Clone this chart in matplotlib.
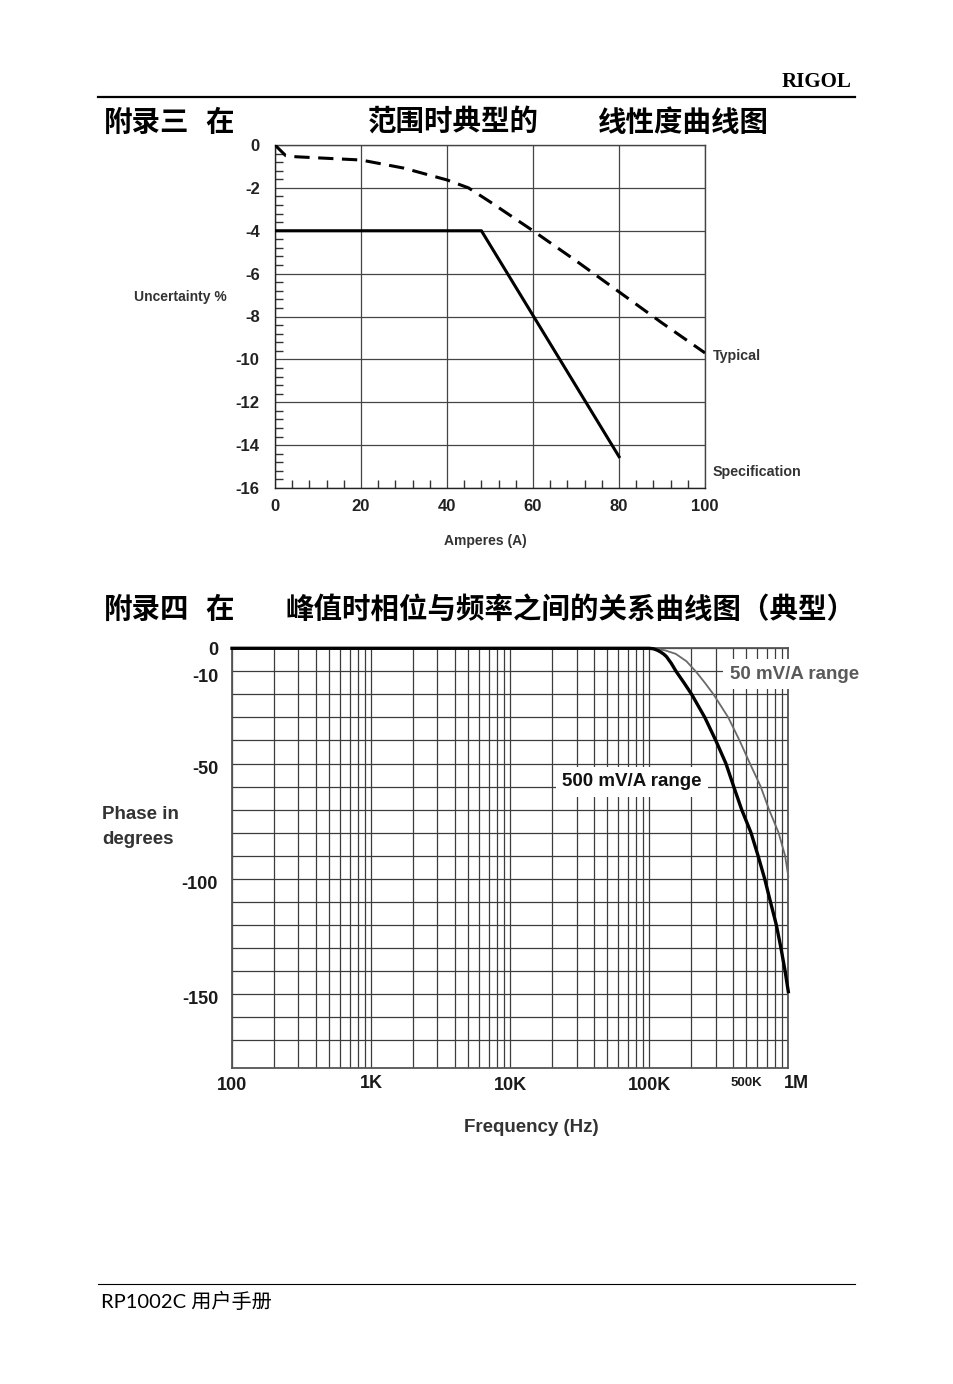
import numpy as np
import matplotlib
matplotlib.use('Agg')
import matplotlib.pyplot as plt
from matplotlib.lines import Line2D
from matplotlib.transforms import ScaledTranslation
from matplotlib.ticker import FixedLocator, LogLocator, NullFormatter

# ---------------- data ----------------
# Chart 1: uncertainty vs amperes
amps_typical = [0, 2.5, 5, 10, 20, 30, 40, 45, 50, 60, 70, 80, 90, 100]
unc_typical = [0, -0.5, -0.55, -0.6, -0.7, -1.08, -1.63, -2.0, -2.65, -4.0, -5.4, -6.85, -8.3, -9.7]
amps_spec = [0, 48, 80.2]
unc_spec = [-4, -4, -14.6]
x1_ticks = [0, 20, 40, 60, 80, 100]
y1_ticks = [0, -2, -4, -6, -8, -10, -12, -14, -16]

# Chart 2: phase vs frequency
freq_500 = [100, 1.0e5, 1.07e5, 1.14e5, 1.2e5, 1.27e5, 1.33e5, 1.44e5, 1.56e5, 1.78e5,
            2.02e5, 2.51e5, 3.01e5, 3.56e5, 4.05e5, 4.62e5, 5.39e5, 6.06e5, 6.76e5,
            7.44e5, 8.2e5, 8.85e5, 9.48e5, 1e6]
phase_500 = [0, 0, -0.2, -0.8, -1.5, -2.5, -3.6, -6.5, -10, -15,
             -20, -30, -40, -50, -60, -70, -80, -90, -100,
             -110, -120, -130, -140, -149]
freq_50 = [100, 1.05e5, 1.15e5, 1.3e5, 1.55e5, 1.85e5, 2.16e5, 2.5e5, 2.9e5, 3.7e5,
           4.46e5, 5.3e5, 6.33e5, 7.27e5, 8.51e5, 9.48e5, 1e6]
phase_50 = [0, 0, -0.3, -0.9, -2.4, -5.6, -10, -14.8, -20, -30,
            -40, -50, -60, -70, -80, -90, -99]
x2_ticks = [100, 1e3, 1e4, 1e5, 5e5, 1e6]
x2_labels = ['100', '1K', '10K', '100K', '500K', '1M']
y2_ticks = [0, -10, -50, -100, -150]
y2_labels = ['0', '-10', '-50', '-100', '-150']

# ---------------- figure ----------------
W, H, DPI = 954, 1384, 100
fig = plt.figure(figsize=(W / DPI, H / DPI), dpi=DPI)
fig.patch.set_facecolor('white')

def fx(px):
    return px / W

def fy(py):
    return 1 - py / H

CJK = ['Noto Sans CJK SC', 'DejaVu Sans']
SANS = ['Liberation Sans', 'DejaVu Sans']

# header / footer
fig.text(fx(852), fy(82), 'RIGOL', ha='right', va='center', fontsize=15,
         fontweight='bold', family=['Liberation Serif', 'DejaVu Serif'])
fig.add_artist(Line2D([fx(98), fx(855)], [fy(97), fy(97)], color='black', lw=1.6))
fig.add_artist(Line2D([fx(98), fx(855)], [fy(1284), fy(1284)], color='black', lw=0.8))
fig.text(fx(101), fy(1301), 'RP1002C 用户手册', ha='left', va='center', fontsize=14.5,
         family=['Lato', 'Noto Sans CJK SC', 'DejaVu Sans'])

# titles
for txt, px in [('附录三', 104), ('在', 205), ('范围时典型的', 368), ('线性度曲线图', 598)]:
    fig.text(fx(px), fy(123), txt, ha='left', va='center', fontsize=20.5,
             fontweight='bold', family=CJK)
for txt, px in [('附录四', 104), ('在', 205), ('峰值时相位与频率之间的关系曲线图（典型）', 285)]:
    fig.text(fx(px), fy(610), txt, ha='left', va='center', fontsize=20.5,
             fontweight='bold', family=CJK)

# ---------------- chart 1 ----------------
ax1 = fig.add_axes([fx(275), fy(488), (705 - 275) / W, (488 - 145) / H])
ax1.set_xlim(0, 100)
ax1.set_ylim(-16, 0)
ax1.plot(amps_spec, unc_spec, color='black', lw=2.2, solid_capstyle='butt', zorder=3)
typ, = ax1.plot(amps_typical, unc_typical, color='black', lw=2.2, zorder=3,
                dash_capstyle='butt')
typ.set_dashes((5.0, 2.8))

ax1.xaxis.set_major_locator(FixedLocator(x1_ticks))
ax1.yaxis.set_major_locator(FixedLocator(y1_ticks))
ax1.xaxis.set_minor_locator(FixedLocator(list(np.arange(0, 100.1, 4))))
ax1.yaxis.set_minor_locator(FixedLocator(list(np.round(np.arange(-16, 0.01, 0.4), 2))))
ax1.set_xticklabels([str(v) for v in x1_ticks])
ax1.set_yticklabels([str(v) for v in y1_ticks])
ax1.tick_params(which='major', length=0)
ax1.tick_params(axis='y', which='major', pad=11)
ax1.tick_params(axis='x', which='major', pad=8)
ax1.tick_params(which='minor', direction='in', length=6, width=1.0, color='#333333')
for lab in ax1.get_xticklabels() + ax1.get_yticklabels():
    lab.set_fontsize(12)
    lab.set_fontweight('bold')
    lab.set_family(SANS)
    lab.set_color('#222222')
ax1.grid(True, which='major', color='#444444', lw=0.9)
for s in ax1.spines.values():
    s.set_color('#444444')
    s.set_linewidth(1.0)
ax1.spines['left'].set_color('#222222')
ax1.spines['bottom'].set_color('#222222')

fig.text(fx(180), fy(297), 'Uncertainty %', ha='center', va='center', fontsize=10,
         fontweight='bold', family=SANS, color='#333333')
fig.text(fx(485), fy(541), 'Amperes (A)', ha='center', va='center', fontsize=10,
         fontweight='bold', family=SANS, color='#333333')
fig.text(fx(713), fy(356), 'Typical', ha='left', va='center', fontsize=10.3,
         fontweight='bold', family=SANS, color='#333333')
fig.text(fx(713), fy(472), 'Specification', ha='left', va='center', fontsize=10.3,
         fontweight='bold', family=SANS, color='#333333')

# ---------------- chart 2 ----------------
ax2 = fig.add_axes([fx(232), fy(1067.7), (788.3 - 232) / W, (1067.7 - 648.3) / H])
ax2.set_xscale('log')
ax2.set_xlim(100, 1e6)
ax2.set_ylim(-182, 0)
ax2.plot(freq_50, phase_50, color='#6a6a6a', lw=1.3, zorder=3, clip_on=False)
ax2.plot(freq_500, phase_500, color='black', lw=2.4, zorder=4, clip_on=False)

ax2.xaxis.set_major_locator(FixedLocator(x2_ticks))
ax2.set_xticklabels(x2_labels)
ax2.xaxis.set_minor_locator(LogLocator(base=10, subs=range(2, 10)))
ax2.xaxis.set_minor_formatter(NullFormatter())
ax2.yaxis.set_major_locator(FixedLocator(y2_ticks))
ax2.set_yticklabels(y2_labels)
ax2.yaxis.set_minor_locator(FixedLocator(list(range(-170, 0, 10))))
ax2.tick_params(which='both', length=0)
ax2.tick_params(axis='y', pad=10)
ax2.tick_params(axis='x', pad=7)
for lab in ax2.get_xticklabels() + ax2.get_yticklabels():
    lab.set_fontsize(13)
    lab.set_fontweight('bold')
    lab.set_family(SANS)
    lab.set_color('#1a1a1a')
xl = ax2.get_xticklabels()
xl[4].set_fontsize(9.5)
xl[5].set_transform(xl[5].get_transform() + ScaledTranslation(8 / DPI, 2 / DPI, fig.dpi_scale_trans))
xl[1].set_transform(xl[1].get_transform() + ScaledTranslation(0, 2 / DPI, fig.dpi_scale_trans))
for lab in ax2.get_yticklabels()[1:]:
    lab.set_transform(lab.get_transform() + ScaledTranslation(0, -4 / DPI, fig.dpi_scale_trans))
ax2.grid(True, which='both', color='#3c3c3c', lw=0.9)
for s in ax2.spines.values():
    s.set_color('#555555')
    s.set_linewidth(1.3)

ax2.text(7.5e4, -58, '500 mV/A range', ha='center', va='center', fontsize=13.5,
         fontweight='bold', family=SANS, color='#111111', zorder=6, clip_on=False,
         bbox=dict(boxstyle='square,pad=0.35', facecolor='white', edgecolor='none'))
ax2.text(1.11e6, -11.2, '50 mV/A range', ha='center', va='center', fontsize=13.5,
         fontweight='bold', family=SANS, color='#5a5a5a', zorder=6, clip_on=False,
         bbox=dict(boxstyle='square,pad=0.35', facecolor='white', edgecolor='none'))

fig.text(fx(102), fy(815), 'Phase in', ha='left', va='center', fontsize=13.5,
         fontweight='bold', family=SANS, color='#333333')
fig.text(fx(102), fy(840), 'degrees', ha='left', va='center', fontsize=13.5,
         fontweight='bold', family=SANS, color='#333333')
fig.text(fx(531), fy(1128), 'Frequency (Hz)', ha='center', va='center', fontsize=13.5,
         fontweight='bold', family=SANS, color='#333333')

fig.savefig('out.png', dpi=DPI, facecolor='white')
